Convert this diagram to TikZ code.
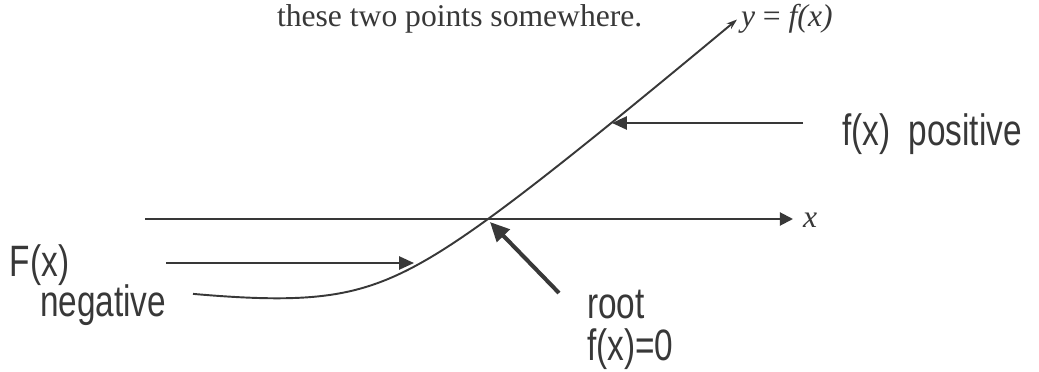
\documentclass[tikz,border=0pt]{standalone}
\usepackage{fontspec}
\setmainfont{Liberation Serif}
\newfontfamily\handfont{Liberation Sans}
\usetikzlibrary{arrows.meta}
\definecolor{ink}{gray}{0.22}
\newcommand{\hwtext}[1]{\scalebox{0.76}[1]{#1}}
\begin{document}
\begin{tikzpicture}[x=0.02cm,y=-0.02cm,
  every node/.style={inner sep=0pt, outer sep=0pt, text=ink},
  printed/.style={font=\fontsize{18}{21}\selectfont},
  hand/.style={font=\handfont\fontsize{25}{27}\selectfont, anchor=base west},
  thinline/.style={draw=ink, line width=1.1pt},
  axistip/.style={-{Triangle[length=7.5pt,width=7.5pt]}},
  labeltip/.style={-{Triangle[length=8.5pt,width=7.5pt]}},
  rootarrow/.style={draw=ink, line width=2.3pt, -{Triangle[length=11pt,width=10pt]}}]
\useasboundingbox (0,0) rectangle (1039,372);
% printed text
\node[printed, anchor=base west] (txt) at (277,27) {these two points somewhere.};
\node[printed, anchor=base west] (ylab) at (741,27) {\textit{y} = \textit{f(x)}};
% x axis
\coordinate (axL) at (145,219);
\coordinate (axR) at (793,219);
\draw[thinline, axistip] (axL) -- (axR);
\node[printed, anchor=base west] (xlab) at (803,227) {\textit{x}};
% curve y = f(x)
\draw[thinline, -{Stealth[length=6pt,width=4pt]}] plot[domain=193:737, samples=120, smooth]
  (\x, {334 - 0.35*(\x-375) - 50*sqrt(((\x-375)/100)^2+1)});
% arrows to the curve
\coordinate (posT) at (803,123);
\coordinate (posH) at (612,123);
\draw[thinline, labeltip] (posT) -- (posH);
\coordinate (negT) at (166,263);
\coordinate (negH) at (414,263);
\draw[thinline, labeltip] (negT) -- (negH);
\coordinate (rootT) at (559,293);
\coordinate (rootH) at (490,222);
\draw[rootarrow] (rootT) -- (rootH);
% handwritten labels
\node[hand] (poslab) at (842,145) {\hwtext{f(x)\ \ positive}};
\node[hand] (neglab1) at (10,276) {\hwtext{F(x)}};
\node[hand] (neglab2) at (40,316) {\hwtext{negative}};
\node[hand] (rootlab1) at (587,318) {\hwtext{root}};
\node[hand] (rootlab2) at (587,360) {\hwtext{f(x)=0}};
\end{tikzpicture}
\end{document}
